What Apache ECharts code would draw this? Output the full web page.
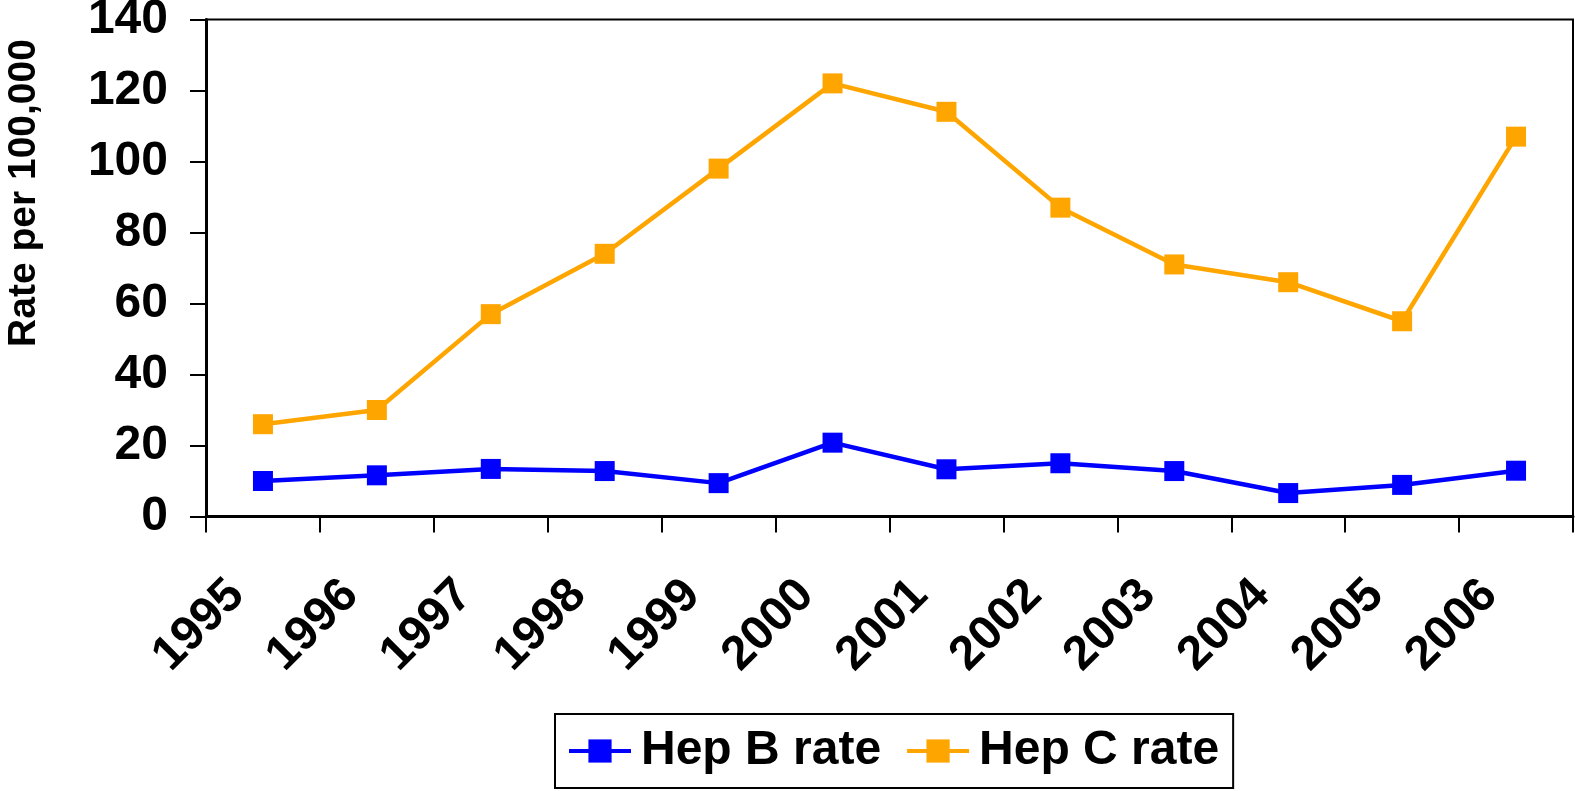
<!DOCTYPE html>
<html>
<head>
<meta charset="utf-8">
<title>Hep B / Hep C rate</title>
<script src="https://cdn.jsdelivr.net/npm/echarts@6/dist/echarts.min.js"></script>
<style>
  html, body { margin: 0; padding: 0; background: #fff; }
  #chart { width: 1575px; height: 791px; }
</style>
</head>
<body>
<div id="chart"></div>
<script>
// data
var years = ['1995', '1996', '1997', '1998', '1999', '2000', '2001', '2002', '2003', '2004', '2005', '2006'];
var hepB = [10, 11.6, 13.4, 12.8, 9.4, 20.8, 13.3, 15, 12.8, 6.6, 8.9, 12.9];
var hepC = [26, 30, 57, 74, 98, 122, 114, 87, 71, 66, 55, 107];
var yTicks = { min: 0, max: 140, step: 20 };

var font = 'Arial, "Liberation Sans", sans-serif';

var chart = echarts.init(document.getElementById('chart'), null, { renderer: 'canvas' });

var option = {
  animation: false,
  backgroundColor: '#ffffff',
  grid: {
    left: 206,
    right: 2,
    top: 19.5,
    bottom: 274.5,
    show: true,
    borderColor: '#000',
    borderWidth: 2,
    containLabel: false,
    outerBoundsMode: 'none'
  },
  legend: {
    left: 555,
    top: 714,
    padding: [13, 14, 13, 12],
    borderColor: '#000',
    borderWidth: 2,
    itemWidth: 62,
    itemHeight: 29,
    itemGap: 24,
    lineStyle: { width: 4 },
    textStyle: {
      fontFamily: font,
      fontWeight: 'bold',
      fontSize: 48,
      color: '#000',
      padding: [0, 0, 0, 5]
    },
    data: ['Hep B rate', 'Hep C rate']
  },
  xAxis: {
    type: 'category',
    data: years,
    boundaryGap: true,
    axisLine: { lineStyle: { color: '#000', width: 3 } },
    axisTick: { show: true, inside: false, length: 16, lineStyle: { color: '#000', width: 2 } },
    axisLabel: {
      rotate: 45,
      margin: 45,
      interval: 0,
      padding: [0, 37, 0, 0],
      fontFamily: font,
      fontWeight: 'bold',
      fontSize: 48,
      color: '#000'
    },
    splitLine: { show: false }
  },
  yAxis: {
    type: 'value',
    min: yTicks.min,
    max: yTicks.max,
    interval: yTicks.step,
    axisLine: { show: true, lineStyle: { color: '#000', width: 3 } },
    axisTick: { show: true, inside: false, length: 16, lineStyle: { color: '#000', width: 2 } },
    axisLabel: {
      margin: 38,
      fontFamily: font,
      fontWeight: 'bold',
      fontSize: 48,
      color: '#000'
    },
    splitLine: { show: false }
  },
  graphic: [{
    type: 'text',
    x: 24,
    y: 193,
    rotation: Math.PI / 2,
    style: {
      text: 'Rate per 100,000',
      fontFamily: font,
      fontWeight: 'bold',
      fontSize: 39,
      fill: '#000',
      align: 'center',
      verticalAlign: 'middle'
    }
  }],
  series: [{
    name: 'Hep B rate',
    type: 'line',
    data: hepB,
    symbol: 'rect',
    symbolSize: 20,
    color: '#0000ff',
    lineStyle: { color: '#0000ff', width: 4.5 },
    itemStyle: { color: '#0000ff' }
  }, {
    name: 'Hep C rate',
    type: 'line',
    data: hepC,
    symbol: 'rect',
    symbolSize: 20,
    color: '#ffa500',
    lineStyle: { color: '#ffa500', width: 4.5 },
    itemStyle: { color: '#ffa500' }
  }]
};

chart.setOption(option);
</script>
</body>
</html>
